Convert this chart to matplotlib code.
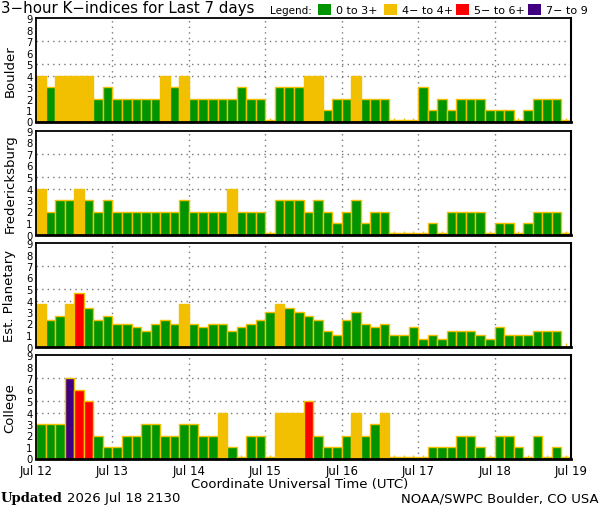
import numpy as np
import matplotlib
matplotlib.use("Agg")
import matplotlib.pyplot as plt
from matplotlib.patches import Rectangle

# ---- data (56 three-hour intervals, Jul 12 00 UT .. Jul 18 21 UT) ----
stations = ["Boulder", "Fredericksburg", "Est. Planetary", "College"]
day_labels = ["Jul 12", "Jul 13", "Jul 14", "Jul 15", "Jul 16", "Jul 17", "Jul 18", "Jul 19"]

boulder = [4, 3, 4, 4, 4, 4, 2, 3,
           2, 2, 2, 2, 2, 4, 3, 4,
           2, 2, 2, 2, 2, 3, 2, 2,
           0, 3, 3, 3, 4, 4, 1, 2,
           2, 4, 2, 2, 2, 0, 0, 0,
           3, 1, 2, 1, 2, 2, 2, 1,
           1, 1, 0, 1, 2, 2, 2, 0]
fredericksburg = [4, 2, 3, 3, 4, 3, 2, 3,
                  2, 2, 2, 2, 2, 2, 2, 3,
                  2, 2, 2, 2, 4, 2, 2, 2,
                  0, 3, 3, 3, 2, 3, 2, 1,
                  2, 3, 1, 2, 2, 0, 0, 0,
                  0, 1, 0, 2, 2, 2, 2, 0,
                  1, 1, 0, 1, 2, 2, 2, 0]
planetary = [3.67, 2.33, 2.67, 3.67, 4.67, 3.33, 2.33, 2.67,
             2.0, 2.0, 1.67, 1.33, 2.0, 2.33, 2.0, 3.67,
             2.0, 1.67, 2.0, 2.0, 1.33, 1.67, 2.0, 2.33,
             3.0, 3.67, 3.33, 3.0, 2.67, 2.33, 1.33, 1.0,
             2.33, 3.0, 2.0, 1.67, 2.0, 1.0, 1.0, 1.67,
             0.67, 1.0, 0.67, 1.33, 1.33, 1.33, 1.0, 0.67,
             1.67, 1.0, 1.0, 1.0, 1.33, 1.33, 1.33, np.nan]
college = [3, 3, 3, 7, 6, 5, 2, 1,
           1, 2, 2, 3, 3, 2, 2, 3,
           3, 2, 2, 4, 1, 0, 2, 2,
           0, 4, 4, 4, 5, 2, 1, 1,
           2, 4, 2, 3, 4, 0, 0, 0,
           0, 1, 1, 1, 2, 2, 1, 0,
           2, 2, 1, 0, 2, 0, 1, 0]
series = [boulder, fredericksburg, planetary, college]

legend_labels = ["0 to 3+", "4\u2212 to 4+", "5\u2212 to 6+", "7\u2212 to 9"]

# ---- style ----
GREEN = "#009400"
YELLOW = "#F2C000"
RED = "#FF0000"
PURPLE = "#400080"
legend_colors = [GREEN, YELLOW, RED, PURPLE]
MIN_VIS = 0.17  # zero-valued intervals are shown as a thin sliver


def kcolor(v):
    if v < 3.5:
        return GREEN
    if v < 4.5:
        return YELLOW
    if v < 6.5:
        return RED
    return PURPLE


W, H = 600, 510
fig = plt.figure(figsize=(6.0, 5.1), dpi=100)
fig.patch.set_facecolor("white")

left_px, right_px = 36, 571
tops_px = [19, 132, 244, 356]
panel_h_px = 103.5

n = len(boulder)
x = np.arange(n)

for k, (name, vals, top) in enumerate(zip(stations, series, tops_px)):
    ax = fig.add_axes([left_px / W, 1 - (top + panel_h_px) / H,
                       (right_px - left_px) / W, panel_h_px / H])
    vals = np.array(vals, dtype=float)
    shown = np.where(vals == 0, MIN_VIS, vals)
    cols = [kcolor(v) if not np.isnan(v) else "none" for v in vals]
    ax.bar(x, shown, width=1.0, align="edge", color=cols,
           edgecolor=YELLOW, linewidth=1.0, zorder=2)

    ax.set_xlim(0, n)
    ax.set_ylim(0, 9)

    # reference lines
    for yv in (4, 5, 7):
        ax.axhline(yv, color="#777777", linestyle=(0, (1, 3)), linewidth=1.0, zorder=1)
    for d in range(8, n, 8):
        ax.axvline(d, color="#777777", linestyle=(0, (1, 3)), linewidth=1.0, zorder=1)

    ax.set_yticks(range(10))
    ax.set_yticklabels([str(i) for i in range(10)], fontsize=7.2)
    ax.tick_params(axis="y", length=0, pad=2.5)

    ax.set_xticks(np.arange(0, n + 1, 8))
    ax.set_xticks(x + 0.5, minor=True)
    ax.tick_params(axis="x", which="minor", direction="in", length=3,
                   width=1.0, color=YELLOW)
    if k == len(stations) - 1:
        ax.set_xticklabels(day_labels, fontsize=8.5)
        ax.tick_params(axis="x", which="major", length=0, pad=4)
    else:
        ax.set_xticklabels([])
        ax.tick_params(axis="x", which="major", length=0)

    for s in ("top", "left"):
        ax.spines[s].set_linewidth(1.3)
        ax.spines[s].set_color("black")
    ax.spines["bottom"].set_linewidth(2.0)
    ax.spines["right"].set_linewidth(1.5)
    ax.spines["right"].set_linestyle((0, (2, 1)))
    ax.spines["left"].set_zorder(3)

    fig.text(10 / W, 1 - (top + panel_h_px / 2) / H, name, rotation=90,
             ha="center", va="center", fontsize=9.5)

# ---- title and legend ----
fig.text(1 / W, 1 - 8.5 / H, "3\u2212hour K\u2212indices for Last 7 days",
         ha="left", va="center", fontsize=10.8)
fig.text(270 / W, 1 - 11 / H, "Legend:", ha="left", va="center", fontsize=7.5)
box_x = [318, 384, 456, 528]
for bx, c, lab in zip(box_x, legend_colors, legend_labels):
    fig.patches.append(Rectangle((bx / W, 1 - 16 / H), 13 / W, 11 / H,
                                 transform=fig.transFigure, facecolor=c,
                                 edgecolor="none"))
    fig.text((bx + 18) / W, 1 - 11 / H, lab, ha="left", va="center", fontsize=8)

# ---- footer ----
fig.text(300 / W, 1 - 485 / H, "Coordinate Universal Time (UTC)",
         ha="center", va="center", fontsize=9.5)
fig.text(1 / W, 1 - 499 / H, "Updated", ha="left", va="center",
         fontsize=9.5, fontweight="bold", family="DejaVu Serif")
fig.text(67 / W, 1 - 499 / H, "2026 Jul 18 2130", ha="left", va="center",
         fontsize=9.5)
fig.text(599 / W, 1 - 499 / H, "NOAA/SWPC Boulder, CO USA", ha="right",
         va="center", fontsize=9.5)

fig.savefig("out.png", dpi=100, facecolor="white")
